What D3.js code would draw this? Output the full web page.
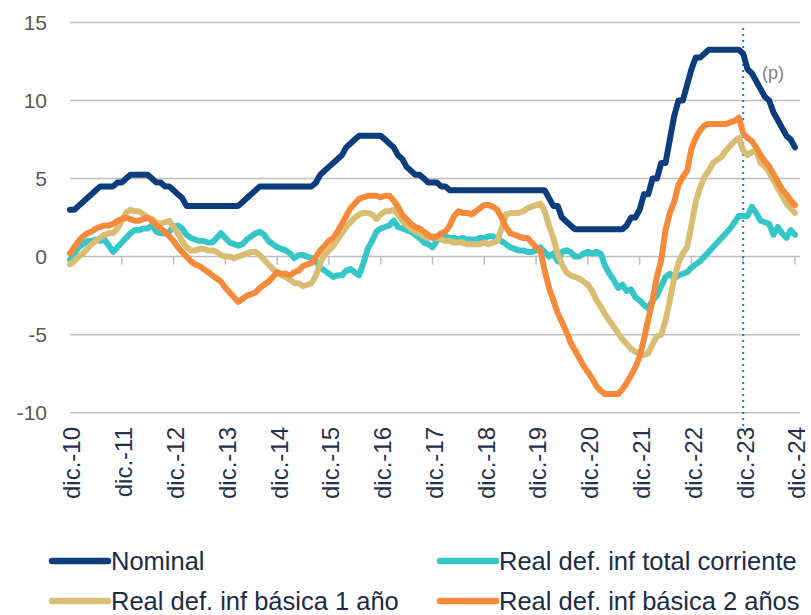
<!DOCTYPE html>
<html>
<head>
<meta charset="utf-8">
<script src="https://cdn.jsdelivr.net/npm/d3@7"></script>
<style>
  body { margin: 0; background: #fff; }
  svg { display: block; font-family: "Liberation Sans", Arial, sans-serif; }
</style>
</head>
<body>
<svg id="chart"></svg>
<script>
// Tick labels (one per December, month index 0 = dic.-10)
const xLabels = ['dic.-10', 'dic.-11', 'dic.-12', 'dic.-13', 'dic.-14', 'dic.-15', 'dic.-16',
  'dic.-17', 'dic.-18', 'dic.-19', 'dic.-20', 'dic.-21', 'dic.-22', 'dic.-23', 'dic.-24'];
const yTicks = [-10, -5, 0, 5, 10, 15];

// Monthly series, dic.-10 .. dic.-24 (one row per year)
const nominal = [
  3.0, 3.0, 3.25, 3.5, 3.75, 4.0, 4.25, 4.5, 4.5, 4.5, 4.5, 4.75,
  4.75, 5.0, 5.25, 5.25, 5.25, 5.25, 5.25, 5.0, 4.75, 4.75, 4.5, 4.5,
  4.25, 4.0, 3.75, 3.25, 3.25, 3.25, 3.25, 3.25, 3.25, 3.25, 3.25, 3.25,
  3.25, 3.25, 3.25, 3.25, 3.5, 3.75, 4.0, 4.25, 4.5, 4.5, 4.5, 4.5,
  4.5, 4.5, 4.5, 4.5, 4.5, 4.5, 4.5, 4.5, 4.5, 4.75, 5.25, 5.5,
  5.75, 6.0, 6.25, 6.5, 7.0, 7.25, 7.5, 7.75, 7.75, 7.75, 7.75, 7.75,
  7.75, 7.5, 7.25, 7.0, 6.5, 6.25, 5.75, 5.5, 5.25, 5.25, 5.0, 4.75,
  4.75, 4.75, 4.5, 4.5, 4.25, 4.25, 4.25, 4.25, 4.25, 4.25, 4.25, 4.25,
  4.25, 4.25, 4.25, 4.25, 4.25, 4.25, 4.25, 4.25, 4.25, 4.25, 4.25, 4.25,
  4.25, 4.25, 4.25, 3.75, 3.25, 3.25, 2.5, 2.25, 2.0, 1.75, 1.75, 1.75,
  1.75, 1.75, 1.75, 1.75, 1.75, 1.75, 1.75, 1.75, 1.75, 2.0, 2.5, 2.5,
  3.0, 4.0, 4.0, 5.0, 5.0, 6.0, 6.0, 7.5, 9.0, 10.0, 10.0, 11.0,
  12.0, 12.75, 12.75, 13.0, 13.25, 13.25, 13.25, 13.25, 13.25, 13.25, 13.25, 13.25,
  13.0, 12.0, 11.75, 11.25, 10.75, 10.25, 10.0, 9.25, 8.75, 8.25, 7.75, 7.5,
  7.0
];
const realTotal = [
  -0.2, 0.2, 0.6, 0.8, 1.0, 1.0, 1.1, 1.0, 1.1, 0.7, 0.3, 0.6,
  0.9, 1.2, 1.5, 1.7, 1.7, 1.8, 1.8, 2.0, 1.6, 1.5, 1.5, 1.6,
  1.9, 2.0, 1.8, 1.4, 1.2, 1.1, 1.0, 1.0, 0.9, 0.9, 1.2, 1.5,
  1.2, 0.9, 0.8, 0.7, 0.8, 1.1, 1.3, 1.5, 1.6, 1.4, 1.0, 0.8,
  0.6, 0.5, 0.4, 0.2, -0.1, 0.1, 0.1, 0.0, -0.1, -0.3, -0.7, -0.9,
  -1.1, -1.3, -1.2, -1.2, -0.9, -0.8, -1.0, -1.2, -0.4, 0.5, 1.0, 1.6,
  1.8, 1.9, 2.0, 2.3, 1.9, 1.8, 1.7, 1.6, 1.4, 1.2, 0.9, 0.8,
  0.6, 1.0, 1.4, 1.3, 1.2, 1.2, 1.1, 1.2, 1.1, 1.1, 1.1, 1.2,
  1.2, 1.3, 1.3, 1.1, 1.0, 0.8, 0.6, 0.5, 0.4, 0.4, 0.3, 0.3,
  0.4, 0.6, 0.3, 0.0, 0.2, -0.3, 0.3, 0.4, 0.3, 0.0, 0.0, 0.2,
  0.3, 0.2, 0.3, 0.2, -0.6, -1.1, -1.5, -2.0, -1.8, -2.2, -2.1, -2.6,
  -2.8, -3.1, -3.3, -2.8, -2.5, -1.9, -1.3, -1.1, -1.4, -1.2, -1.1, -1.0,
  -0.7, -0.5, -0.3, 0.0, 0.3, 0.6, 0.9, 1.2, 1.5, 1.8, 2.2, 2.6,
  2.6, 2.6, 3.2, 2.8, 2.3, 2.2, 2.1, 1.4, 1.9, 1.5, 1.2, 1.7,
  1.4
];
const realCore1 = [
  -0.5, -0.3, 0.0, 0.2, 0.5, 0.8, 1.0, 1.2, 1.4, 1.5, 1.5, 1.8,
  2.3, 2.8, 3.0, 2.9, 2.9, 2.7, 2.5, 2.4, 2.2, 2.1, 2.2, 2.3,
  1.9, 1.5, 1.0, 0.6, 0.4, 0.4, 0.5, 0.5, 0.4, 0.4, 0.3, 0.1,
  0.0, 0.0, -0.1, 0.0, 0.1, 0.2, 0.3, 0.3, 0.1, -0.2, -0.5, -0.8,
  -1.0, -1.2, -1.3, -1.5, -1.7, -1.7, -1.9, -1.8, -1.7, -1.2, -0.4, 0.1,
  0.4, 0.7, 1.1, 1.5, 1.9, 2.2, 2.5, 2.7, 2.8, 2.8, 2.7, 2.4,
  2.7, 2.9, 2.9, 3.0, 2.7, 2.3, 2.0, 1.8, 1.6, 1.5, 1.3, 1.2,
  1.3, 1.2, 1.1, 1.0, 1.0, 0.9, 0.9, 0.9, 0.8, 0.8, 0.8, 0.8,
  0.9, 0.8, 0.9, 1.0, 1.8, 2.7, 2.8, 2.8, 2.8, 2.9, 3.1, 3.2,
  3.3, 3.4, 2.9, 2.0, 1.2, 0.2, -0.5, -1.0, -1.2, -1.3, -1.4, -1.6,
  -1.8, -2.2, -2.8, -3.2, -3.7, -4.1, -4.5, -4.9, -5.3, -5.6, -5.9, -6.1,
  -6.2, -6.3, -6.2, -5.6, -5.1, -5.0, -4.1, -2.8, -1.4, -0.4, 0.2, 0.6,
  2.0, 3.5, 4.4, 5.1, 5.5, 6.0, 6.2, 6.4, 6.8, 7.1, 7.4, 7.6,
  6.8, 6.5, 6.7, 6.8, 6.0, 5.8, 5.4, 4.9, 4.4, 3.9, 3.4, 3.1,
  2.8
];
const realCore2 = [
  0.2, 0.6, 1.0, 1.3, 1.5, 1.6, 1.8, 1.9, 2.0, 2.0, 2.1, 2.3,
  2.4, 2.5, 2.4, 2.3, 2.3, 2.4, 2.5, 2.3, 2.0, 1.8, 1.6, 1.3,
  1.0, 0.6, 0.3, 0.0, -0.3, -0.5, -0.6, -0.8, -1.0, -1.2, -1.4, -1.6,
  -2.0, -2.3, -2.6, -2.9, -2.7, -2.5, -2.4, -2.3, -2.0, -1.8, -1.6, -1.3,
  -1.0, -1.1, -1.1, -1.2, -1.0, -0.9, -0.6, -0.5, -0.4, 0.0, 0.4, 0.7,
  1.0, 1.2, 1.6, 2.1, 2.6, 3.1, 3.4, 3.7, 3.8, 3.9, 3.9, 3.9,
  3.8, 3.9, 3.9, 3.6, 3.2, 2.7, 2.4, 2.1, 1.9, 1.8, 1.6, 1.4,
  1.2, 1.3, 1.5, 1.6, 2.0, 2.6, 2.9, 2.8, 2.8, 2.7, 2.9, 3.1,
  3.3, 3.3, 3.2, 3.0, 2.5, 1.9, 1.5, 1.4, 1.3, 1.2, 1.2, 0.9,
  0.6, 0.4, -0.9, -2.0, -2.8, -3.6, -4.2, -4.8, -5.5, -6.0, -6.5, -7.0,
  -7.4, -7.8, -8.3, -8.6, -8.8, -8.8, -8.8, -8.8, -8.5, -8.1, -7.6, -7.1,
  -6.4, -5.3, -4.0, -2.8, -1.3, -0.2, 1.7, 2.8, 3.5, 4.6, 5.1, 5.5,
  6.9, 7.6, 8.1, 8.4, 8.5, 8.5, 8.5, 8.5, 8.5, 8.6, 8.7, 8.9,
  7.9, 7.6, 7.4, 7.0, 6.5, 6.1, 5.8, 5.3, 4.8, 4.3, 4.0, 3.6,
  3.3
];

const seriesNames = ['Nominal', 'Real def. inf total corriente',
  'Real def. inf básica 1 año', 'Real def. inf básica 2 años'];
const seriesColors = ['#0b3d7c', '#35c6c9', '#d8bd72', '#f58a3b'];
const seriesValues = [nominal, realTotal, realCore1, realCore2];
const projectionStart = 156; // dic.-23

const width = 811;
const height = 615;

const svg = d3.select('#chart')
  .attr('width', width)
  .attr('height', height);

const x = d3.scaleLinear().domain([0, 168]).range([70, 795]);
const y = d3.scaleLinear().domain([-10, 15]).range([412.7, 22.5]);

// gridlines
svg.append('g')
  .selectAll('line')
  .data(yTicks)
  .join('line')
  .attr('x1', 70)
  .attr('x2', 800)
  .attr('y1', d => y(d))
  .attr('y2', d => y(d))
  .attr('stroke', '#bfbfbf')
  .attr('stroke-width', 1.5);

// y labels
svg.append('g')
  .selectAll('text')
  .data(yTicks)
  .join('text')
  .attr('x', 47)
  .attr('y', d => y(d))
  .attr('dy', '0.35em')
  .attr('text-anchor', 'end')
  .attr('font-size', 21)
  .attr('fill', '#595959')
  .text(d => d);

// tick marks on the zero line
svg.append('g')
  .selectAll('line')
  .data(xLabels)
  .join('line')
  .attr('x1', (d, i) => x(i * 12))
  .attr('x2', (d, i) => x(i * 12))
  .attr('y1', y(0))
  .attr('y2', y(0) + 8)
  .attr('stroke', '#bfbfbf')
  .attr('stroke-width', 1.5);

// x labels, rotated
svg.append('g')
  .selectAll('text')
  .data(xLabels)
  .join('text')
  .attr('transform', (d, i) => `translate(${x(i * 12) + 2}, 427) rotate(-90)`)
  .attr('text-anchor', 'end')
  .attr('dy', '0.35em')
  .attr('font-size', 24)
  .attr('fill', '#26304a')
  .text(d => d);

// dotted marker where the projection starts
svg.append('line')
  .attr('x1', x(projectionStart))
  .attr('x2', x(projectionStart))
  .attr('y1', 28)
  .attr('y2', 428)
  .attr('stroke', '#2e75b6')
  .attr('stroke-width', 2)
  .attr('stroke-dasharray', '2,4');

svg.append('text')
  .attr('x', 762)
  .attr('y', 79)
  .attr('font-size', 18)
  .attr('fill', '#7f7f7f')
  .text('(p)');

// series lines
const line = d3.line()
  .x((d, i) => x(i))
  .y(d => y(d));

svg.append('g')
  .selectAll('path')
  .data(seriesValues)
  .join('path')
  .attr('d', line)
  .attr('fill', 'none')
  .attr('stroke', (d, i) => seriesColors[i])
  .attr('stroke-width', 6)
  .attr('stroke-linejoin', 'round')
  .attr('stroke-linecap', 'round');

// legend, two columns by two rows
const legendX = [52, 440];
const legendY = [561, 601];
const legend = svg.append('g')
  .selectAll('g')
  .data(seriesNames)
  .join('g')
  .attr('transform', (d, i) => `translate(${legendX[i % 2]}, ${legendY[Math.floor(i / 2)]})`);

legend.append('line')
  .attr('x1', 0)
  .attr('x2', 56)
  .attr('stroke', (d, i) => seriesColors[i])
  .attr('stroke-width', 6.5)
  .attr('stroke-linecap', 'round');

legend.append('text')
  .attr('x', 59)
  .attr('dy', '0.35em')
  .attr('font-size', 25.5)
  .attr('fill', '#1c2b47')
  .text(d => d);
</script>
</body>
</html>
